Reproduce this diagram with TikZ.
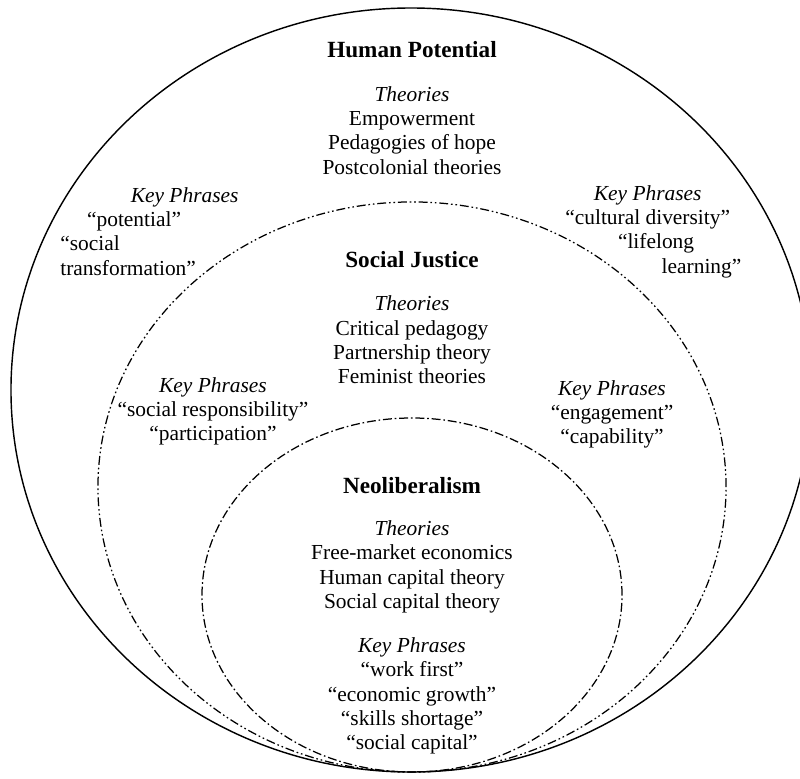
\documentclass[tikz,border=0pt]{standalone}
\usepackage{fontspec}
\setmainfont{Liberation Serif}

\begin{document}
\begin{tikzpicture}[x=0.0197cm, y=0.0197cm,
  txt/.style={align=center, inner sep=0pt, font=\fontsize{12}{13.6}\selectfont},
  rag/.style={align=left, inner sep=0pt, anchor=west, font=\fontsize{12}{13.6}\selectfont},
  head/.style={inner sep=0pt, font=\fontsize{13}{15}\selectfont\bfseries},
  dashdot/.style={line width=0.7pt, dash pattern=on 5pt off 1.6pt on 0.9pt off 1.6pt},
  dashdotdot/.style={line width=0.7pt,
    dash pattern=on 5pt off 1.6pt on 0.9pt off 1.6pt on 0.9pt off 1.6pt}]
  \useasboundingbox (0,0) rectangle (800,778);
  % three nested rings, touching at the bottom
  \draw[line width=0.8pt] (411,388) ellipse [x radius=7.88cm, y radius=7.525cm];
  \draw[dashdotdot] (412,291) ellipse [x radius=6.186cm, y radius=5.615cm];
  \draw[dashdot] (412,183) ellipse [x radius=4.137cm, y radius=3.487cm];
  % outer ring: human potential
  \node[head] (hp) at (412,728.5) {Human Potential};
  \node[txt] (hpTheo) at (412,647.5)
    {\textit{Theories}\\Empowerment\\Pedagogies of hope\\Postcolonial theories};
  \node[rag] (hpKeyL) at (60,546.5)
    {\hspace*{39.5pt}\textit{Key Phrases}\\\hspace*{15pt}“potential”\\“social\\transformation”};
  \node[rag] (hpKeyR) at (565,546.5)
    {\hspace*{16pt}\textit{Key Phrases}\\“cultural diversity”\\\hspace*{29.5pt}“lifelong\\\hspace*{54pt}learning”};
  % middle ring: social justice
  \node[head] (sj) at (412,518.5) {Social Justice};
  \node[txt] (sjTheo) at (412,438)
    {\textit{Theories}\\Critical pedagogy\\Partnership theory\\Feminist theories};
  \node[txt] (sjKeyL) at (213,366.5)
    {\textit{Key Phrases}\\“social responsibility”\\“participation”};
  \node[txt] (sjKeyR) at (612,363.5)
    {\textit{Key Phrases}\\“engagement”\\“capability”};
  % inner ring: neoliberalism
  \node[head] (nl) at (412,292.5) {Neoliberalism};
  \node[txt] (nlTheo) at (412,211)
    {\textit{Theories}\\Free-market economics\\Human capital theory\\Social capital theory};
  \node[txt] (nlKey) at (412,82)
    {\textit{Key Phrases}\\“work first”\\“economic growth”\\“skills shortage”\\“social capital”};
\end{tikzpicture}
\end{document}
